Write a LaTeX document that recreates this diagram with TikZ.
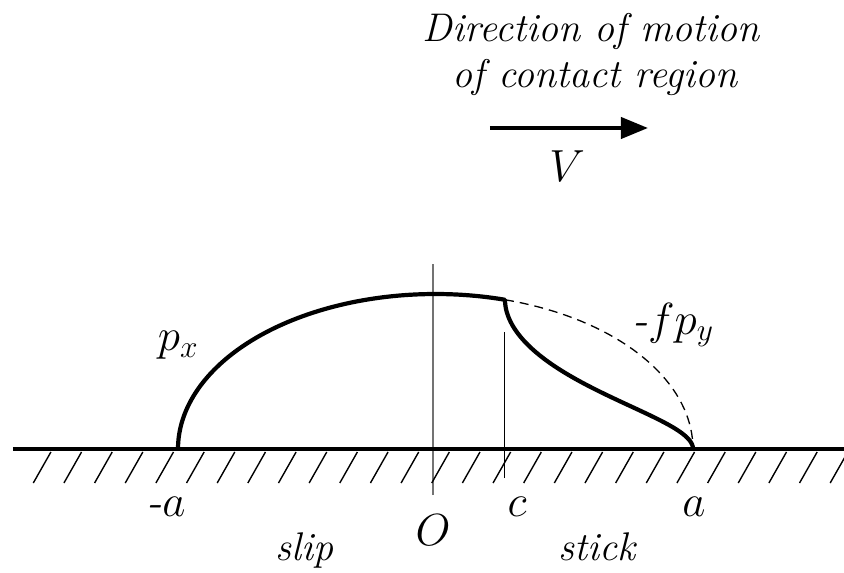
\RequirePackage{fix-cm}
\documentclass[tikz,border=0pt]{standalone}
\usepackage{amsmath}
\usetikzlibrary{arrows.meta}
\tikzset{
  ground/.style={line width=4pt},
  hatch/.style={line width=1.4pt},
  load/.style={line width=4.2pt, line join=round},
  elastic/.style={line width=1.3pt, dash pattern=on 9pt off 6pt},
  axisline/.style={draw=black!55, line width=1.6pt},
  guide/.style={line width=1pt},
  txt/.style={font=\fontsize{40}{46}\selectfont\itshape, inner sep=0pt},
  lbl/.style={font=\fontsize{45}{50}\selectfont, inner sep=0pt},
  motion/.style={line width=4pt, -{Triangle[length=27pt,width=21pt]}}
}
\begin{document}
\begin{tikzpicture}[x=1pt,y=1pt]
  \useasboundingbox (-433,-124) rectangle (411,449);
  \draw[axisline] (0,-46) -- (0,185);
  \draw[guide] (72,-29) -- (72,117);
  \foreach \k in {0,...,26}
    \draw[hatch] ({-399.7+30.65*\k},-34) -- ++(17.6,31);
  \draw[ground] (-420,0) -- (411,0);
  \draw[elastic] plot[domain=74.34:0, samples=40, variable=\t] ({2.5+257.5*cos(\t)},{155*sin(\t)});
  \draw[load] plot[domain=180:74.34, samples=80, variable=\t] ({2.5+257.5*cos(\t)},{155*sin(\t)})
    -- plot[domain=180:0, samples=80, variable=\t] ({166+94*cos(\t)},{155*sqrt(max(0,1-((163.5+94*cos(\t))/257.5)^2))-62*sin(\t)});
  \node[lbl] (px) at (-255,104) {$p_x$};
  \node[lbl] (fpy) at (240,124) {\textit{-}$fp_y$};
  \node[lbl] (minusa) at (-267,-58) {\textit{-}$a$};
  \node[lbl] (origin) at (0,-81) {$O$};
  \node[lbl] (cpt) at (84,-58) {$c$};
  \node[lbl] (apt) at (261,-58) {$a$};
  \node[txt, anchor=base] (slip) at (-128,-111) {slip};
  \node[txt, anchor=base] (stick) at (164,-111) {stick};
  \node[txt, anchor=base] (dir1) at (158,407) {Direction of motion};
  \node[txt, anchor=base] (dir2) at (162,361) {of contact region};
  \coordinate (vtail) at (57,321);
  \coordinate (vhead) at (215,321);
  \draw[motion] (vtail) -- (vhead);
  \node[lbl] (vel) at (134,283) {$V$};
\end{tikzpicture}
\end{document}
